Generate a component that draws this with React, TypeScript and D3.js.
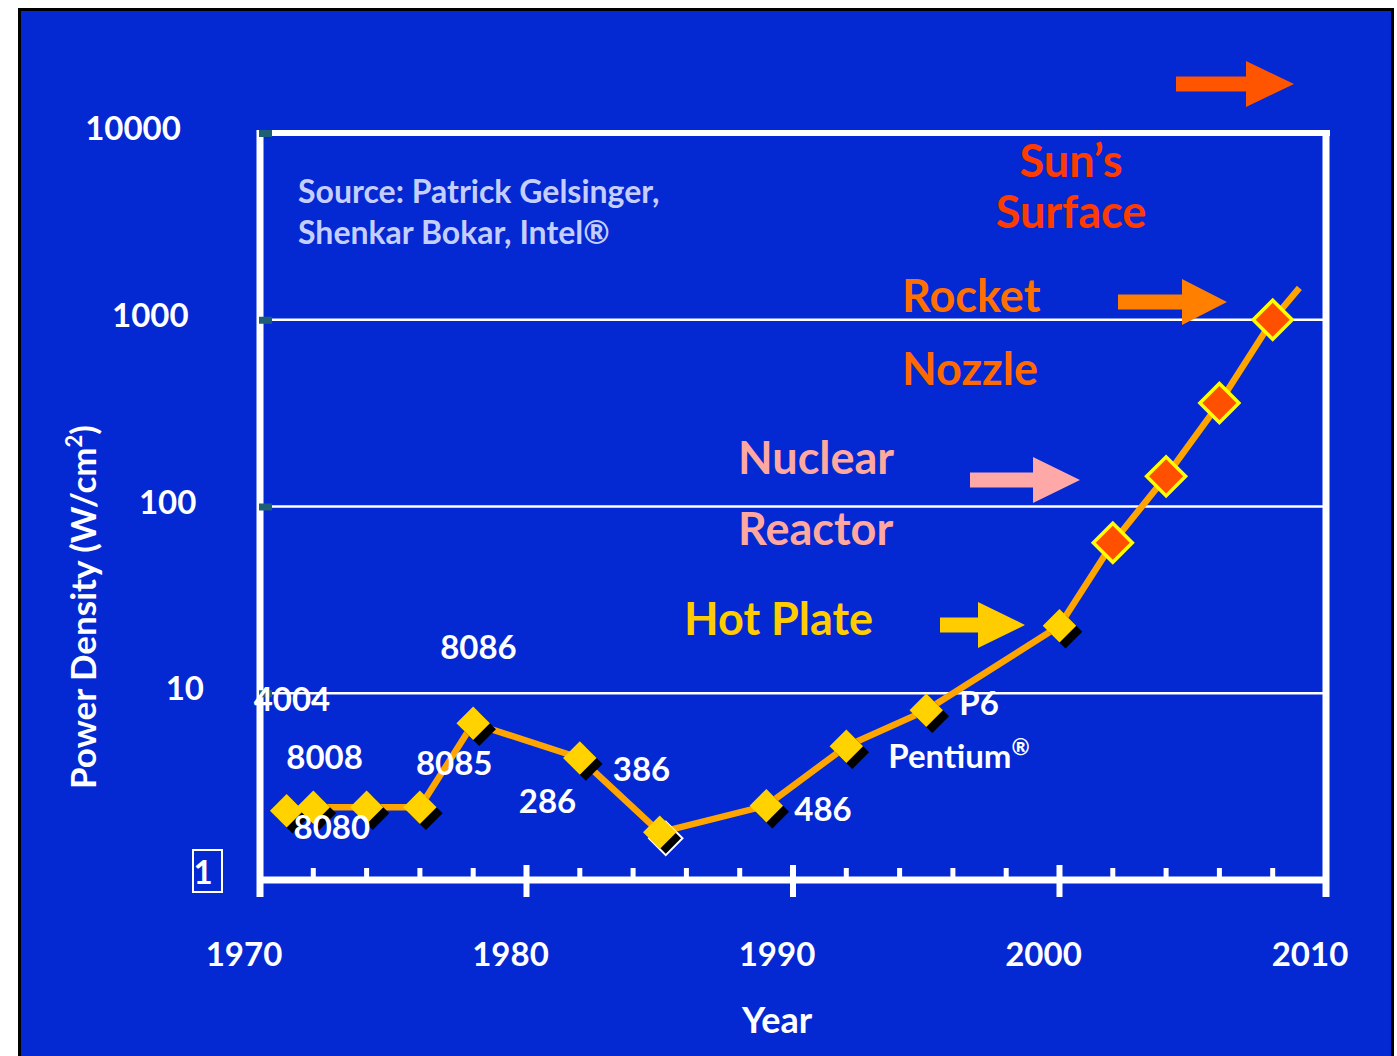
import React from 'react';
import * as d3 from 'd3';

// chip power density
const years = [1971, 1972, 1974, 1976, 1978, 1982, 1985, 1989, 1992, 1995, 2000, 2002, 2004, 2006, 2008, 2009];
const density = [2.35, 2.45, 2.45, 2.45, 6.9, 4.5, 1.8, 2.5, 5.2, 8.1, 23, 64, 145, 358, 1000, 1480];
const chips = ['4004', '8008', '8080', '8085', '8086', '286', '386', '486', 'Pentium', 'P6', '', '', '', '', '', ''];
// last point is only the end of the line, red ones are projections
const markerKind = ['y', 'y', 'y', 'y', 'y', 'y', 'y', 'y', 'y', 'y', 'y', 'r', 'r', 'r', 'r', ''];

const yTicks = [10, 100, 1000, 10000];
const xTicks = [1970, 1980, 1990, 2000, 2010];
const minorYears = d3.range(1972, 2010, 2).filter((y) => y % 10 !== 0);

// label offsets from the marker (px)
const labelShift: Record<string, [number, number]> = {
  '4004': [-33, -100],
  '8008': [-27, -38],
  '8080': [-73, 32],
  '8085': [-4, -32],
  '8086': [-33, -64],
  '286': [-61, 55],
  '386': [-47, -51],
  '486': [28, 15],
  Pentium: [42, 22],
  P6: [33, 5],
};

const W = 1397;
const H = 1056;
const left = 260, right = 1326, top = 133, bottom = 880;
const BLUE = '#0428d2';
const FONT = 'Lato, "Open Sans", sans-serif';

const x = d3.scaleLinear().domain([1970, 2010]).range([left, right]);
const y = d3.scaleLog().domain([1, 10000]).range([bottom, top]);

function arrow(x0: number, xh: number, x1: number, cy: number) {
  const s = 7.5, h = 23;
  return `M${x0},${cy - s}L${xh},${cy - s}L${xh},${cy - h}L${x1},${cy}L${xh},${cy + h}L${xh},${cy + s}L${x0},${cy + s}Z`;
}

export default function App() {
  const pts = years.map((yr, i) => ({ yr, v: density[i], chip: chips[i], kind: markerKind[i] }));
  const line = d3.line<{ yr: number; v: number }>()
    .x((d) => x(d.yr))
    .y((d) => y(d.v));
  const sq = d3.symbol().type(d3.symbolSquare);

  return (
    <svg width={W} height={H} style={{ display: 'block', position: 'absolute', left: 0, top: 0 }} fontFamily={FONT} fontWeight="bold">
      <rect x={0} y={0} width={W} height={H} fill="#fff" />
      <rect x={19.5} y={9.5} width={1373} height={H} fill={BLUE} stroke="#000" strokeWidth={3} />

      {/* grid */}
      {yTicks.slice(0, 3).map((t) => (
        <line key={t} x1={left} x2={right} y1={y(t)} y2={y(t)} stroke="#fff" strokeWidth={2.5} />
      ))}
      {/* frame */}
      <line x1={left} x2={right + 4} y1={top} y2={top} stroke="#fff" strokeWidth={6} />
      <line x1={right} x2={right} y1={top - 3} y2={bottom + 17} stroke="#fff" strokeWidth={7} />
      <line x1={left} x2={left} y1={top - 3} y2={bottom + 17} stroke="#fff" strokeWidth={7} />
      <line x1={left} x2={right} y1={bottom} y2={bottom} stroke="#fff" strokeWidth={7} />
      {xTicks.slice(1, 4).map((t) => (
        <line key={t} x1={x(t)} x2={x(t)} y1={bottom - 15} y2={bottom + 17} stroke="#fff" strokeWidth={6} />
      ))}
      {minorYears.map((t) => (
        <line key={t} x1={x(t)} x2={x(t)} y1={bottom - 12} y2={bottom} stroke="#fff" strokeWidth={5} />
      ))}
      {yTicks.map((t) => (
        <rect key={t} x={left - 1} y={y(t) - 3} width={13} height={7} fill="#1e5f78" />
      ))}

      {/* y labels */}
      {yTicks.map((t) => (
        <text key={t} x={204 - 7.7 * (String(t).length - 2)} y={y(t) + 7} textAnchor="end" fill="#fff" fontSize={33}>
          {t}
        </text>
      ))}
      <rect x={193} y={850} width={29} height={42} fill="none" stroke="#fff" strokeWidth={2} />
      <text x={203} y={884} textAnchor="middle" fill="#fff" fontSize={33}>1</text>

      {/* x labels */}
      {xTicks.map((t) => (
        <text key={t} x={x(t) - 16} y={966} textAnchor="middle" fill="#fff" fontSize={33}>{t}</text>
      ))}
      <text x={777} y={1033} textAnchor="middle" fill="#fff" fontSize={36}>Year</text>
      <text transform="translate(96,607) rotate(-90)" textAnchor="middle" fill="#fff" fontSize={35}>
        Power Density (W/cm<tspan fontSize={22} dy={-14}>2</tspan><tspan dy={14}>)</tspan>
      </text>

      {/* source */}
      <text x={298} y={203} fill="#c5cfff" fontSize={32}>Source: Patrick Gelsinger,</text>
      <text x={298} y={244} fill="#c5cfff" fontSize={32}>Shenkar Bokar, Intel®</text>

      {/* reference levels */}
      <text x={1071} y={177} textAnchor="middle" fill="#ff3c00" fontSize={45}>Sun’s</text>
      <text x={1071} y={228} textAnchor="middle" fill="#ff3c00" fontSize={45}>Surface</text>
      <text x={902} y={312} fill="#ff7000" fontSize={45}>Rocket</text>
      <text x={902} y={385} fill="#ff6a00" fontSize={45}>Nozzle</text>
      <text x={738} y={474} fill="#ffa8a0" fontSize={45}>Nuclear</text>
      <text x={738} y={545} fill="#ffa8a0" fontSize={45}>Reactor</text>
      <text x={684} y={635} fill="#ffcc00" fontSize={45}>Hot Plate</text>

      <path d={arrow(1176, 1246, 1294, 84)} fill="#ff5500" />
      <path d={arrow(1118, 1182, 1227, 302)} fill="#ff8000" />
      <path d={arrow(970, 1033, 1080, 480)} fill="#ffa8a8" />
      <path d={arrow(940, 978, 1025, 625)} fill="#ffcc00" />

      {/* series */}
      <path d={line(pts) || ''} fill="none" stroke="#ffa500" strokeWidth={6.5} strokeLinejoin="round" />
      {pts.map((d, i) =>
        d.kind === 'y' ? (
          <g key={i} transform={`translate(${x(d.yr)},${y(d.v)})`}>
            <path d={sq.size(560)() || ''} transform="translate(6,6) rotate(45)" fill="#000"
              stroke={d.chip === '386' ? '#fff' : 'none'} strokeWidth={2} />
            <path d={sq.size(560)() || ''} transform="rotate(45)" fill="#ffd200" />
          </g>
        ) : d.kind === 'r' ? (
          <path key={i} d={sq.size(760)() || ''} transform={`translate(${x(d.yr)},${y(d.v)}) rotate(45)`}
            fill="#ff5000" stroke="#ffff00" strokeWidth={3.5} />
        ) : null
      )}

      {/* chip labels */}
      {pts.filter((d) => d.chip).map((d) => {
        const [dx, dy] = labelShift[d.chip];
        return (
          <text key={d.chip} x={x(d.yr) + dx} y={y(d.v) + dy} fill="#fff" fontSize={33}>
            {d.chip}
            {d.chip === 'Pentium' ? <tspan fontSize={22} dy={-13}>®</tspan> : null}
          </text>
        );
      })}
    </svg>
  );
}
